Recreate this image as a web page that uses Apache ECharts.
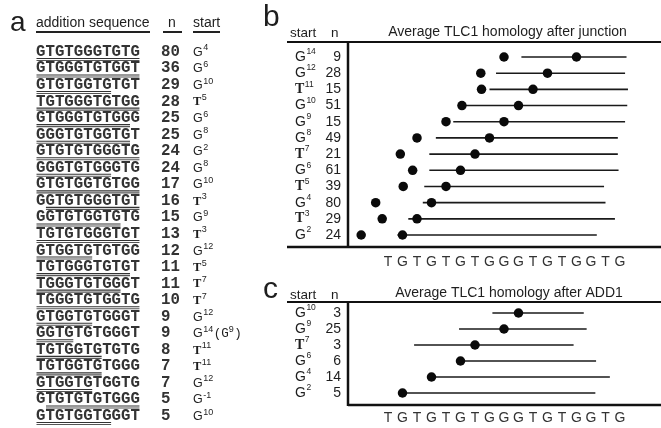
<!DOCTYPE html>
<html><head><meta charset="utf-8">
<script src="https://cdn.jsdelivr.net/npm/echarts@6/dist/echarts.min.js"></script>
<style>html,body{margin:0;padding:0;background:#fff}#c{width:661px;height:428px}</style>
</head><body><div id="c"></div>
<script>
// ---------- Panel a data ----------
const aSeq = ['GTGTGGGTGTG','GTGGGTGTGGT','GTGTGGTGTGT','TGTGGGTGTGG','GTGGGTGTGGG','GGGTGTGGTGT',
  'GTGTGTGGGTG','GGGTGTGGGTG','GTGTGGTGTGG','GGTGTGGGTGT','GGTGTGGTGTG','TGTGTGGGTGT','GTGGTGTGTGG',
  'TGTGGGTGTGT','TGGGTGTGGGT','TGGGTGTGGTG','GTGGTGTGGGT','GGTGTGTGGGT','TGTGGTGTGTG','TGTGGTGTGGG',
  'GTGGTGTGGTG','GTGTGTGTGGG','GTGTGGTGGGT'];
const aUnderFrom = [0,0,0,0,0,0,0,0,0,1,0,0,0,0,0,0,0,0,0,0,0,1,0];
const aUnderTo   = [11,11,8,11,10,10,11,8,11,11,9,11,6,10,9,11,6,4,7,7,6,11,8];
const aN = [80,36,29,28,25,25,24,24,17,16,15,13,12,11,11,10,9,9,8,7,7,5,5];
const aStart = ['G4','G6','G10','T5','G6','G8','G2','G8','G10','T3','G9','T3','G12','T5','T7','T7',
  'G12','G14(G9)','T11','T11','G12','G-1','G10'];

// ---------- Panel b data ----------
const tlcLetters = ['T','G','T','G','T','G','T','G','G','G','T','G','T','G','G','T','G'];
const bStart = ['G14','G12','T11','G10','G9','G8','T7','G6','T5','G4','T3','G2'];
const bN = [9,28,15,51,15,49,21,61,39,80,29,24];
const bLeftDot = [9.0,7.4,7.45,6.1,5.0,3.0,1.85,2.7,2.05,0.15,0.6,-0.85];
const bLineFrom = [10.2,8.45,8.0,6.1,5.5,4.3,3.85,3.85,3.5,3.4,2.4,1.65];
const bLineTo = [17.45,17.35,17.55,17.5,17.35,16.85,16.85,16.9,15.9,16.0,16.65,15.4];
const bRightDot = [14,12,11,10,9,8,7,6,5,4,3,2];

// ---------- Panel c data ----------
const cStart = ['G10','G9','T7','G6','G4','G2'];
const cN = [3,25,3,6,14,5];
const cLineFrom = [8.2,5.9,2.8,6.05,4.05,2.1];
const cLineTo = [14.5,14.7,13.8,15.35,16.3,15.3];
const cDot = [10,9,7,6,4,2];

// ---------- helpers ----------
const SANS = 'Liberation Sans, Arial, sans-serif';
const MONO = 'Liberation Mono, Courier New, monospace';
const SERIF = 'Liberation Serif, Times New Roman, serif';
const INK = '#1e1e1e';

function startLabel(lbl, x, y, size, supSize) {
  const m = lbl.match(/^([GT])(-?\d+)(?:\((G)(\d+)\))?$/);
  const els = [];
  const isT = m[1] === 'T';
  const bw = isT ? 0.667 * size : 0.778 * size;
  els.push({type:'text', x: x, y: y, style:{text:m[1], fill:INK, textAlign:'left', textVerticalAlign:'middle',
    font: isT ? ('bold ' + size + 'px ' + SERIF) : (size + 'px ' + SANS)}});
  const sx = x + bw + 0.5;
  els.push({type:'text', x: sx, y: y - size*0.36, style:{text:m[2], fill:INK, textAlign:'left', textVerticalAlign:'middle',
    font: supSize + 'px ' + SANS}});
  if (m[3]) {
    const sw = m[2].length * 0.556 * supSize;
    const px = sx + sw + 0.5;
    const ps = size;
    els.push({type:'text', x: px, y: y, style:{text:'(G', fill:INK, textAlign:'left', textVerticalAlign:'middle',
      font: ps + 'px ' + MONO}});
    const s2 = px + 2*0.6*ps;
    els.push({type:'text', x: s2, y: y - size*0.36, style:{text:m[4], fill:INK, textAlign:'left', textVerticalAlign:'middle',
      font: supSize + 'px ' + SANS}});
    els.push({type:'text', x: s2 + 0.556*supSize + 0.5, y: y, style:{text:')', fill:INK, textAlign:'left', textVerticalAlign:'middle',
      font: ps + 'px ' + MONO}});
  }
  return els;
}

const chart = echarts.init(document.getElementById('c'), null, {renderer:'canvas'});

const seqFont = 'bold 15.75px ' + MONO;
const seqColor = '#333';

const option = {
  animation: false,
  backgroundColor: '#fff',
  grid: [
    {left: 36, right: 436, top: 43.7, bottom: 3.7},
    {left: 344.5, right: 12, top: 48.9, bottom: 184.9},
    {left: 344.5, right: 12, top: 305, bottom: 27}
  ],
  xAxis: [
    {gridIndex:0, type:'value', min:0, max:20, show:false},
    {gridIndex:1, type:'value', min:-2, max:19, interval:1,
      axisLine:{show:false}, axisTick:{show:false}, splitLine:{show:false},
      axisLabel:{margin:19, verticalAlign:'middle', color:'#333', fontSize:14, fontFamily:SANS,
        formatter: v => (v>=1 && v<=17) ? tlcLetters[v-1] : ''}},
    {gridIndex:2, type:'value', min:-2, max:19, interval:1,
      axisLine:{show:false}, axisTick:{show:false}, splitLine:{show:false},
      axisLabel:{margin:17, verticalAlign:'middle', color:'#333', fontSize:14, fontFamily:SANS,
        formatter: v => (v>=1 && v<=17) ? tlcLetters[v-1] : ''}}
  ],
  yAxis: [
    {gridIndex:0, type:'category', data: aSeq.map((s,i)=>i), inverse:true, show:false},
    {gridIndex:1, type:'category', data: bStart, inverse:true, show:false},
    {gridIndex:2, type:'category', data: cStart, inverse:true, show:false}
  ],
  graphic: [
    {type:'text', x:10, y:23, style:{text:'a', font:'28px '+SANS, fill:INK, textVerticalAlign:'middle'}},
    {type:'text', x:263, y:18, style:{text:'b', font:'30px '+SANS, fill:INK, textVerticalAlign:'middle'}},
    {type:'text', x:263, y:290, style:{text:'c', font:'30px '+SANS, fill:INK, textVerticalAlign:'middle'}},
    {type:'text', x:36, y:23, style:{text:'addition sequence', font:'14px '+SANS, fill:INK, textVerticalAlign:'middle'}},
    {type:'text', x:168, y:23, style:{text:'n', font:'14px '+SANS, fill:INK, textVerticalAlign:'middle'}},
    {type:'text', x:193, y:23, style:{text:'start', font:'14px '+SANS, fill:INK, textVerticalAlign:'middle'}},
    {type:'line', shape:{x1:36,y1:32,x2:150,y2:32}, style:{stroke:'#222', lineWidth:2}},
    {type:'line', shape:{x1:163,y1:32,x2:182,y2:32}, style:{stroke:'#222', lineWidth:2}},
    {type:'line', shape:{x1:193,y1:32,x2:220,y2:32}, style:{stroke:'#222', lineWidth:2}},
    {type:'text', x:290, y:33, style:{text:'start', font:'13.5px '+SANS, fill:INK, textVerticalAlign:'middle'}},
    {type:'text', x:331, y:33, style:{text:'n', font:'13.5px '+SANS, fill:INK, textVerticalAlign:'middle'}},
    {type:'text', x:507.5, y:32, style:{text:'Average TLC1 homology after junction', font:'14px '+SANS, fill:INK, textAlign:'center', textVerticalAlign:'middle'}},
    {type:'line', shape:{x1:287,y1:42,x2:661,y2:42}, style:{stroke:'#111', lineWidth:2}},
    {type:'line', shape:{x1:348,y1:42,x2:348,y2:248}, style:{stroke:'#111', lineWidth:2.5}},
    {type:'line', shape:{x1:287,y1:247,x2:661,y2:247}, style:{stroke:'#111', lineWidth:2.5}},
    {type:'text', x:290, y:295, style:{text:'start', font:'13.5px '+SANS, fill:INK, textVerticalAlign:'middle'}},
    {type:'text', x:331, y:295, style:{text:'n', font:'13.5px '+SANS, fill:INK, textVerticalAlign:'middle'}},
    {type:'text', x:509, y:293, style:{text:'Average TLC1 homology after ADD1', font:'14px '+SANS, fill:INK, textAlign:'center', textVerticalAlign:'middle'}},
    {type:'line', shape:{x1:287,y1:302,x2:661,y2:302}, style:{stroke:'#111', lineWidth:2}},
    {type:'line', shape:{x1:348,y1:302,x2:348,y2:406}, style:{stroke:'#111', lineWidth:2.5}},
    {type:'line', shape:{x1:348,y1:405,x2:661,y2:405}, style:{stroke:'#111', lineWidth:2.5}}
  ],
  series: [
    {
      type:'custom', xAxisIndex:0, yAxisIndex:0, silent:true,
      data: aSeq.map((s,i)=>[i, aUnderFrom[i], aUnderTo[i]]),
      encode:{y:0, x:[1,2]},
      renderItem: function(params, api) {
        const i = api.value(0);
        const p0 = api.coord([0, i]);
        const u0 = api.coord([api.value(1), i]);
        const u1 = api.coord([api.value(2), i]);
        const y = p0[1];
        const children = [
          {type:'text', x:p0[0], y:y, style:{text:aSeq[i], font:seqFont, fill:seqColor, textAlign:'left', textVerticalAlign:'middle'}},
          {type:'line', shape:{x1:u0[0]+0.5, y1:y+6.5, x2:u1[0]-0.5, y2:y+6.5}, style:{stroke:'#333', lineWidth:1.1}},
          {type:'line', shape:{x1:u0[0]+0.5, y1:y+8.5, x2:u1[0]-0.5, y2:y+8.5}, style:{stroke:'#555', lineWidth:1.1}},
          {type:'text', x:161, y:y, style:{text:String(aN[i]), font:seqFont, fill:seqColor, textAlign:'left', textVerticalAlign:'middle'}}
        ].concat(startLabel(aStart[i], 193, y+0.5, 12.5, 9));
        return {type:'group', children: children};
      }
    },
    {
      type:'custom', xAxisIndex:1, yAxisIndex:1, silent:true,
      data: bStart.map((s,i)=>[i, bLineFrom[i], bLineTo[i]]),
      encode:{y:0, x:[1,2]},
      renderItem: function(params, api) {
        const i = api.value(0);
        const a = api.coord([api.value(1), i]);
        const b = api.coord([api.value(2), i]);
        const children = [
          {type:'line', shape:{x1:a[0], y1:a[1], x2:b[0], y2:b[1]}, style:{stroke:'#1a1a1a', lineWidth:1.6}},
          {type:'text', x:341, y:a[1], style:{text:String(bN[i]), font:'14px '+SANS, fill:INK, textAlign:'right', textVerticalAlign:'middle'}}
        ].concat(startLabel(bStart[i], 295, a[1], 14, 8.5));
        return {type:'group', children: children};
      }
    },
    {type:'scatter', xAxisIndex:1, yAxisIndex:1, symbol:'circle', symbolSize:9.5, silent:true,
      itemStyle:{color:'#0a0a0a', opacity:1}, data: bLeftDot.map((v,i)=>[v, i])},
    {type:'scatter', xAxisIndex:1, yAxisIndex:1, symbol:'circle', symbolSize:9.5, silent:true,
      itemStyle:{color:'#0a0a0a', opacity:1}, data: bRightDot.map((v,i)=>[v, i])},
    {
      type:'custom', xAxisIndex:2, yAxisIndex:2, silent:true,
      data: cStart.map((s,i)=>[i, cLineFrom[i], cLineTo[i]]),
      encode:{y:0, x:[1,2]},
      renderItem: function(params, api) {
        const i = api.value(0);
        const a = api.coord([api.value(1), i]);
        const b = api.coord([api.value(2), i]);
        const children = [
          {type:'line', shape:{x1:a[0], y1:a[1], x2:b[0], y2:b[1]}, style:{stroke:'#1a1a1a', lineWidth:1.6}},
          {type:'text', x:341, y:a[1], style:{text:String(cN[i]), font:'14px '+SANS, fill:INK, textAlign:'right', textVerticalAlign:'middle'}}
        ].concat(startLabel(cStart[i], 295, a[1], 14, 8.5));
        return {type:'group', children: children};
      }
    },
    {type:'scatter', xAxisIndex:2, yAxisIndex:2, symbol:'circle', symbolSize:9.5, silent:true,
      itemStyle:{color:'#0a0a0a', opacity:1}, data: cDot.map((v,i)=>[v, i])}
  ]
};
chart.setOption(option);
</script>
</body></html>
